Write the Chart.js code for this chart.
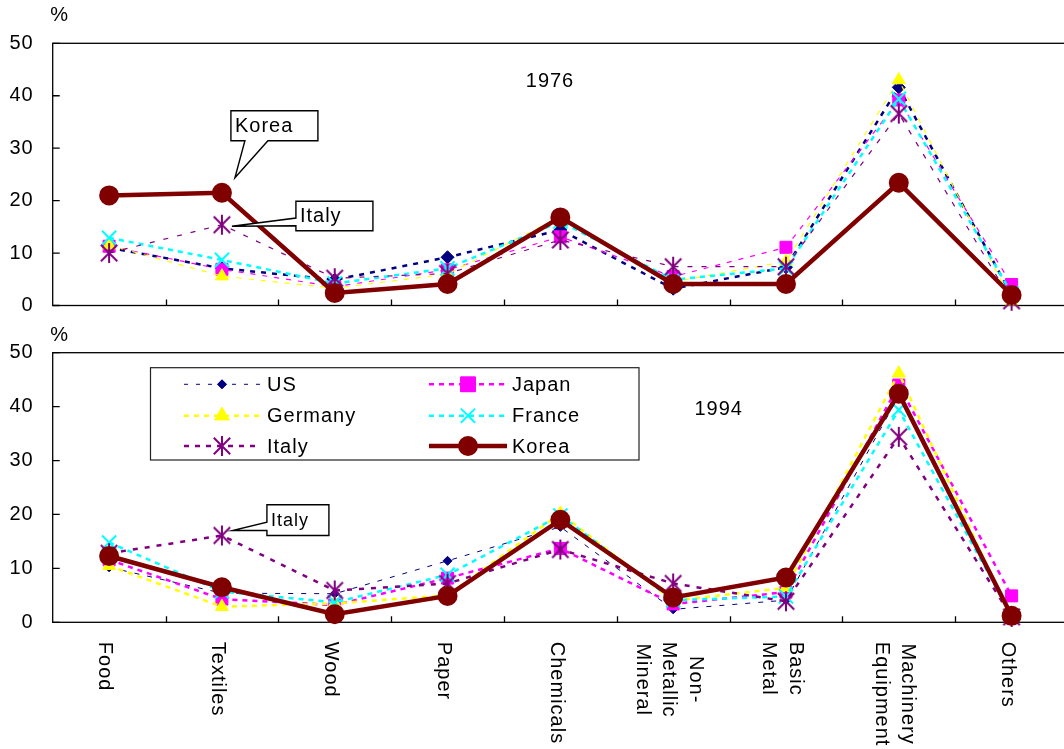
<!DOCTYPE html>
<html lang="en">
<head>
  <meta charset="utf-8" />
  <title>Industry shares 1976 / 1994</title>
  <script src="https://cdn.jsdelivr.net/npm/chart.js@4.4.1/dist/chart.umd.min.js"></script>
  <style>
    html, body {
      margin: 0;
      padding: 0;
      background: #fff;
      overflow: hidden;
      width: 1064px;
      height: 749px;
    }
    #wrap { position: relative; width: 1064px; height: 749px; overflow: hidden; }
    #wrap canvas { position: absolute; left: 0; }
    #top { top: 0; }
    #bottom { top: 322px; }
  </style>
</head>
<body>
  <div id="wrap">
    <canvas id="top" width="1080" height="322"></canvas>
    <canvas id="bottom" width="1080" height="427"></canvas>
  </div>

  <script>
    // ---- data (% share) ----
    const categories = ['Food', 'Textiles', 'Wood', 'Paper', 'Chemicals',
      ['Non-', 'Metallic', 'Mineral'], ['Basic', 'Metal'], ['Machinery', 'Equipment'], 'Others'];
    const seriesNames = ['US', 'Japan', 'Germany', 'France', 'Italy', 'Korea'];
    const yTicks = [0, 10, 20, 30, 40, 50];

    const us1976      = [11.0, 7.1, 4.9, 9.2, 14.4, 3.2, 7.3, 41.6, 2.0];
    const japan1976   = [11.3, 6.9, 3.6, 6.8, 13.1, 5.5, 11.1, 39.2, 4.0];
    const germany1976 = [11.5, 5.6, 3.3, 6.0, 16.9, 4.5, 8.4, 43.0, 0.8];
    const france1976  = [12.9, 8.7, 4.2, 7.1, 16.0, 4.9, 7.1, 39.4, 2.3];
    const italy1976   = [10.0, 15.4, 5.2, 6.1, 12.5, 7.4, 7.4, 36.6, 0.9];
    const korea1976   = [21.0, 21.5, 2.4, 4.1, 16.8, 4.1, 4.1, 23.4, 2.0];

    const us1994      = [10.2, 5.4, 5.3, 11.4, 17.7, 2.4, 4.1, 42.0, 1.0];
    const japan1994   = [11.6, 4.3, 3.2, 8.2, 13.7, 3.4, 5.6, 44.0, 4.9];
    const germany1994 = [10.5, 2.9, 3.5, 5.0, 20.2, 4.0, 6.4, 46.2, 0.6];
    const france1994  = [14.8, 5.7, 3.7, 8.8, 19.8, 4.1, 4.8, 39.4, 1.2];
    const italy1994   = [12.8, 16.1, 5.9, 7.2, 13.5, 7.2, 3.9, 34.4, 1.0];
    const korea1994   = [12.3, 6.5, 1.5, 4.9, 19.0, 4.6, 8.3, 42.4, 1.2];

    const FONT = '"Liberation Sans", Arial, Helvetica, sans-serif';

    // 6-armed asterisk marker like the spreadsheet one
    function makeAsterisk(size, color, lw) {
      const c = document.createElement('canvas');
      c.width = c.height = size;
      const g = c.getContext('2d');
      const h = size / 2, r = h - 1, d = r * 0.82;
      g.strokeStyle = color;
      g.lineWidth = lw;
      g.beginPath();
      g.moveTo(h, h - r); g.lineTo(h, h + r);
      g.moveTo(h - d, h - d); g.lineTo(h + d, h + d);
      g.moveTo(h + d, h - d); g.lineTo(h - d, h + d);
      g.stroke();
      return c;
    }

    const style = {
      US:      { color: '#000080', point: 'rectRot', radius: 6, bw: 1 },
      Japan:   { color: '#FF00FF', point: 'rect', radius: 8.5, bw: 1 },
      Germany: { color: '#FFFF00', point: 'triangle', radius: 7.5, bw: 1 },
      France:  { color: '#00FFFF', point: 'crossRot', radius: 10, bw: 2 },
      Italy:   { color: '#800080', point: makeAsterisk(22, '#800080', 2), radius: 10, bw: 2 },
      Korea:   { color: '#800000', point: 'circle', radius: 9, bw: 2 }
    };

    // [line width, dash, marker radius override]
    const lines1976 = { US: [2.5, [5, 6], 6.5], Japan: [1.2, [5, 7]], Germany: [1.2, [5, 7]],
      France: [2.5, [5, 5]], Italy: [1.2, [5, 9]], Korea: [4.5, []] };
    const lines1994 = { US: [1, [5, 8], 4.5], Japan: [2.5, [5, 5]], Germany: [2.5, [5, 5]],
      France: [2.5, [5, 5]], Italy: [2.5, [5, 7]], Korea: [4.5, []] };

    const makeSets = (values, lines) => values.map((v, i) => {
      const name = seriesNames[i];
      const s = style[name];
      const r = lines[name][2] || s.radius;
      return {
        label: name,
        data: v,
        order: values.length - 1 - i,
        borderColor: s.color,
        backgroundColor: s.color,
        borderWidth: lines[name][0],
        borderDash: lines[name][1],
        pointStyle: s.point,
        pointRadius: r,
        pointHoverRadius: r,
        pointBorderWidth: s.bw,
        pointBorderColor: s.color,
        pointBackgroundColor: s.color,
        tension: 0,
        clip: false
      };
    });

    function drawMarker(ctx, name, x, y, radius) {
      const s = style[name];
      ctx.save();
      ctx.setLineDash([]);
      ctx.strokeStyle = s.color;
      ctx.fillStyle = s.color;
      ctx.lineWidth = s.bw;
      Chart.helpers.drawPoint(ctx, { pointStyle: s.point, radius: radius || s.radius, rotation: 0, borderWidth: s.bw }, x, y);
      if (typeof s.point === 'string' && !s.point.startsWith('cross')) ctx.fill();
      ctx.restore();
    }

    function putText(ctx, str, x, y, size, align) {
      ctx.save();
      ctx.font = `${size}px ${FONT}`;
      ctx.letterSpacing = '1px';
      ctx.fillStyle = '#000';
      ctx.textAlign = align || 'left';
      ctx.textBaseline = 'middle';
      ctx.fillText(str, x, y);
      ctx.restore();
    }

    // box with a wedge pointing to tip; side = 'bottom' or 'left'
    function callout(ctx, box, side, a, b, tip, label, size) {
      const L = box.l, T = box.t, R = box.l + box.w, B = box.t + box.h;
      ctx.save();
      ctx.beginPath();
      ctx.moveTo(L, T);
      ctx.lineTo(R, T);
      ctx.lineTo(R, B);
      if (side === 'bottom') {
        ctx.lineTo(b, B); ctx.lineTo(tip[0], tip[1]); ctx.lineTo(a, B);
        ctx.lineTo(L, B);
      } else {
        ctx.lineTo(L, B);
        ctx.lineTo(L, b); ctx.lineTo(tip[0], tip[1]); ctx.lineTo(L, a);
      }
      ctx.closePath();
      ctx.fillStyle = '#fff';
      ctx.fill();
      ctx.strokeStyle = '#000';
      ctx.lineWidth = 1.4;
      ctx.setLineDash([]);
      ctx.stroke();
      ctx.restore();
      putText(ctx, label, L + 4, T + box.h / 2 + 0.5, size);
    }

    const framePlugin = {
      id: 'frame',
      beforeDraw(chart) { chart.ctx.letterSpacing = '1px'; },
      beforeDatasetsDraw(chart) {
        const { ctx, chartArea: { left, right, top, bottom } } = chart;
        const xs = chart.scales.x, ys = chart.scales.y;
        ctx.save();
        ctx.strokeStyle = '#000';
        ctx.lineWidth = 1.3;
        ctx.strokeRect(left, top, right - left, bottom - top);
        ctx.beginPath();
        for (let i = 1; i < categories.length; i++) {
          const x = Math.round((xs.getPixelForValue(i - 1) + xs.getPixelForValue(i)) / 2) + 0.5;
          ctx.moveTo(x, bottom);
          ctx.lineTo(x, bottom - 6);
        }
        yTicks.forEach(v => {
          const y = ys.getPixelForValue(v);
          ctx.moveTo(left, y);
          ctx.lineTo(left + 7, y);
        });
        ctx.stroke();
        ctx.restore();
        putText(ctx, '%', left + 7, top - chart.options.unitGap, 20, 'center');
      }
    };

    const baseOptions = (pad, unitGap) => ({
      responsive: false,
      animation: false,
      devicePixelRatio: 1,
      unitGap: unitGap,
      layout: { padding: pad },
      plugins: { legend: { display: false }, tooltip: { enabled: false } },
      scales: {
        x: {
          type: 'category',
          offset: true,
          ticks: { display: false },
          grid: { display: false, drawTicks: false },
          border: { display: false },
          afterFit: s => { s.height = 0; }
        },
        y: {
          min: 0,
          max: 50,
          afterBuildTicks: s => { s.ticks = yTicks.map(v => ({ value: v })); },
          ticks: { padding: 0, color: '#000', font: { family: FONT, size: 20 } },
          grid: { display: false, drawTicks: true, tickLength: 19 },
          border: { display: false },
          afterFit: s => { s.width = 52.7; }
        }
      }
    });

    // ---- 1976 ----
    new Chart(document.getElementById('top'), {
      type: 'line',
      data: {
        labels: categories,
        datasets: makeSets([us1976, japan1976, germany1976, france1976, italy1976, korea1976], lines1976)
      },
      options: baseOptions({ top: 43.3, bottom: 16.5, left: 0, right: 9.4 }, 28),
      plugins: [framePlugin, {
        id: 'notes1976',
        afterDatasetsDraw(chart) {
          const { ctx } = chart;
          const xs = chart.scales.x, ys = chart.scales.y;
          putText(ctx, '1976', 550, 81, 20, 'center');
          let px = xs.getPixelForValue(1), py = ys.getPixelForValue(korea1976[1]);
          callout(ctx, { l: px + 9, t: py - 82, w: 87, h: 30 }, 'bottom', px + 23, px + 46,
            [px + 13, py - 15], 'Korea', 20);
          py = ys.getPixelForValue(italy1976[1]);
          callout(ctx, { l: px + 74, t: py - 23.5, w: 77, h: 29.5 }, 'left', py - 6.7, py + 1,
            [px + 10, py + 1.5], 'Italy', 20);
        }
      }]
    });

    // ---- 1994 ----
    new Chart(document.getElementById('bottom'), {
      type: 'line',
      data: {
        labels: categories,
        datasets: makeSets([us1994, japan1994, germany1994, france1994, italy1994, korea1994], lines1994)
      },
      options: baseOptions({ top: 30.7, bottom: 126.7, left: 0, right: 9.4 }, 17),
      plugins: [framePlugin, {
        id: 'notes1994',
        afterDatasetsDraw(chart) {
          const { ctx } = chart;
          const xs = chart.scales.x, ys = chart.scales.y;
          putText(ctx, '1994', 718.7, 87.3, 20, 'center');

          // legend box
          ctx.save();
          ctx.fillStyle = '#fff';
          ctx.fillRect(150.5, 45.7, 488.5, 92.3);
          ctx.strokeStyle = '#222';
          ctx.lineWidth = 1.2;
          ctx.strokeRect(150.5, 45.7, 488.5, 92.3);
          ctx.restore();
          const cols = [{ x1: 184, x2: 260, tx: 267 }, { x1: 429, x2: 507, tx: 512 }];
          const rows = [62.3, 93.7, 124];
          const legendW = { US: [1, [4, 8], 4.5], Japan: [2.5, [5, 5], 10.5], Germany: [2.5, [5, 5], 8.5],
            France: [2.5, [5, 5]], Italy: [2.5, [5, 6]], Korea: [4.5, []] };
          seriesNames.forEach((name, i) => {
            const c = cols[i % 2], y = rows[Math.floor(i / 2)];
            ctx.save();
            ctx.strokeStyle = style[name].color;
            ctx.lineWidth = legendW[name][0];
            ctx.setLineDash(legendW[name][1]);
            ctx.beginPath();
            ctx.moveTo(c.x1, y);
            ctx.lineTo(c.x2, y);
            ctx.stroke();
            ctx.restore();
            drawMarker(ctx, name, (c.x1 + c.x2) / 2, y, legendW[name][2]);
            putText(ctx, name, c.tx, y + 1, 20);
          });

          const px = xs.getPixelForValue(1), py = ys.getPixelForValue(italy1994[1]);
          callout(ctx, { l: px + 45, t: py - 30.7, w: 62, h: 30.7 }, 'left', py - 13.4, py - 5,
            [px + 10.5, py - 5], 'Italy', 18);
        },
        afterDraw(chart) {
          // category names, rotated to read downward
          const { ctx, chartArea } = chart;
          const xs = chart.scales.x;
          ctx.save();
          ctx.font = `20px ${FONT}`;
          ctx.letterSpacing = '1px';
          ctx.fillStyle = '#000';
          ctx.textAlign = 'left';
          ctx.textBaseline = 'alphabetic';
          categories.forEach((lab, i) => {
            const lines = Array.isArray(lab) ? lab : [lab];
            const widths = lines.map(l => ctx.measureText(l).width);
            const W = Math.max(...widths);
            ctx.save();
            ctx.translate(xs.getPixelForValue(i) - 2.5, chartArea.bottom + 19.5);
            ctx.rotate(Math.PI / 2);
            lines.forEach((l, j) => {
              ctx.fillText(l, (W - widths[j]) / 2, (j - (lines.length - 1) / 2) * 26.5 + 7.2);
            });
            ctx.restore();
          });
          ctx.restore();
        }
      }]
    });
  </script>
</body>
</html>
